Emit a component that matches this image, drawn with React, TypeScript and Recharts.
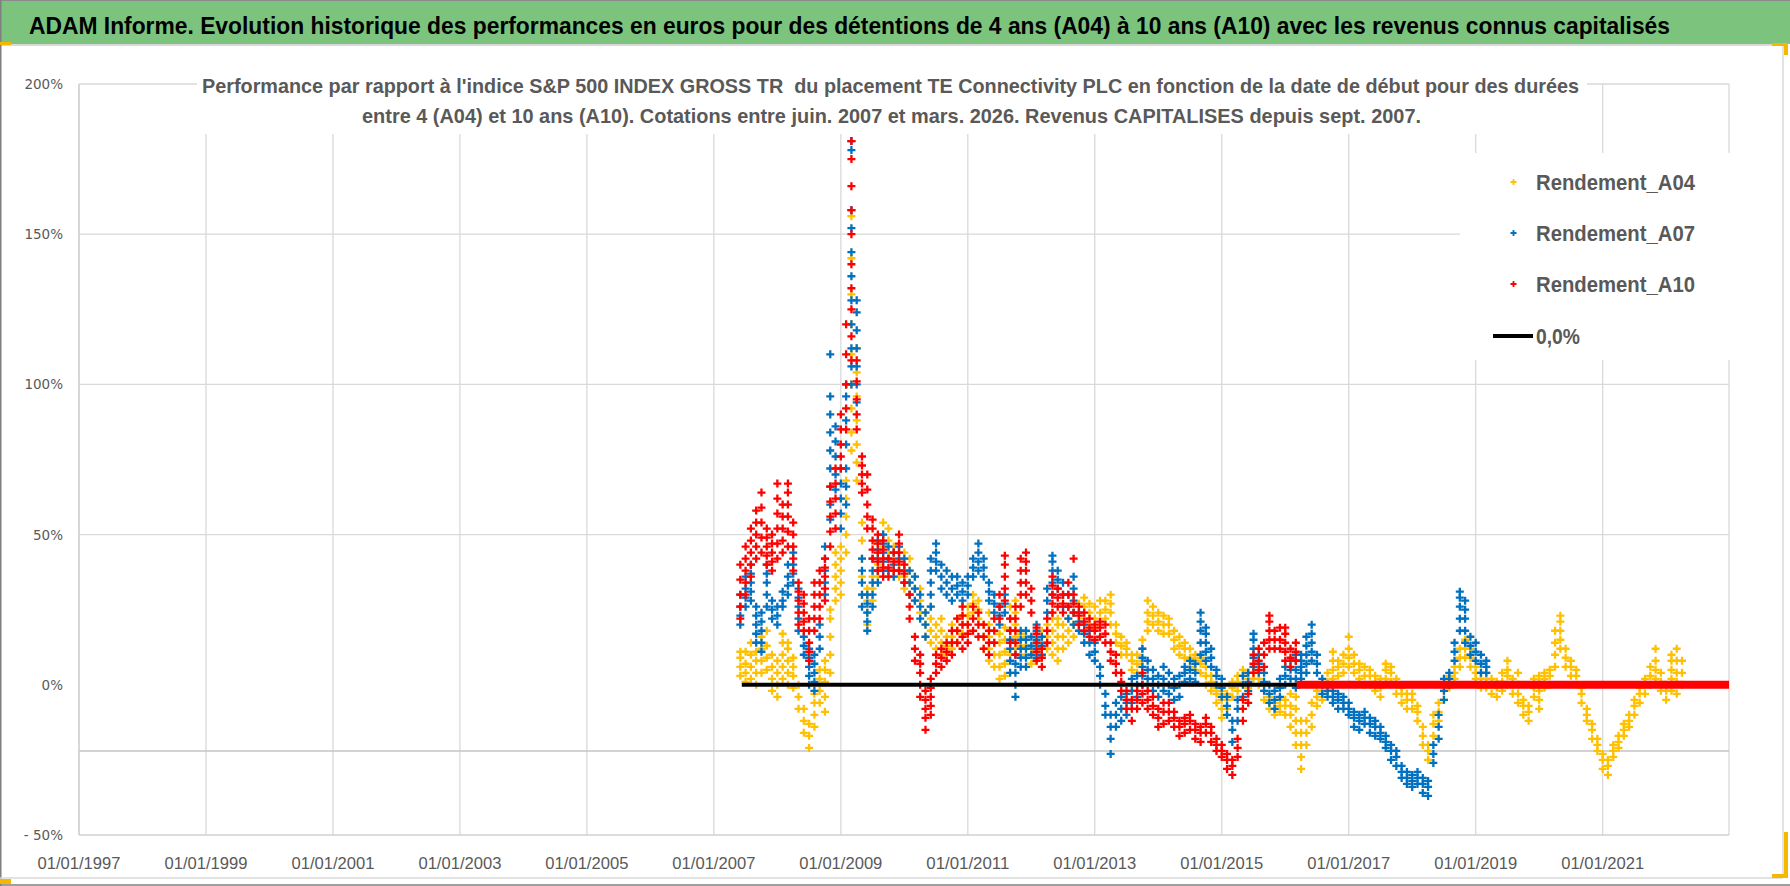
import { ScatterChart, Scatter, XAxis, YAxis, CartesianGrid, ReferenceLine } from 'recharts'

// Values, first column = June 2007.
// Each inner list = the points seen in the cloud for that month (in %).
const FIRST_MONTH = 2007 + 5 / 12

const a04: number[][] = [
    [3, 6, 9, 11], [1, 4, 7, 11], [2, 6, 10, 14], [0, 4, 8, 11], [4, 8, 12, 16], [5, 9, 13, 18], [-2, 2, 6, 10],
    [-4, 0, 4, 8], [2, 6, 10, 14, 17], [0, 4, 8, 12, 14], [-1, 3, 6, 9], [-8, -4, 0], [-16, -12, -8], [-21, -17, -13],
    [-14, -10, -6, -3], [-6, -2, 2, 5], [-9, -4, 1, 5, 8], [4, 10, 16, 22, 25], [28, 32, 36, 40, 44],
    [30, 34, 38, 42, 46], [44, 50, 56, 62, 68], [78, 84, 92, 100, 110, 120, 130, 142, 156], [68, 74, 80, 88, 96, 104, 112],
    [30, 36, 42, 48, 54], [20, 24, 28, 32], [28, 32, 36], [36, 40, 44, 47], [46, 50, 54], [44, 48, 52], [38, 42, 46],
    [36, 40, 44], [32, 36, 40, 44], [30, 34, 38, 42], [28, 32, 36], [24, 28, 32], [16, 20, 24], [14, 18, 22, 26],
    [12, 16, 20], [10, 14, 18, 22], [10, 13, 16], [12, 16, 20], [14, 18, 22], [17, 20, 23], [20, 23, 26], [24, 27, 30],
    [22, 25, 28], [12, 16, 20], [8, 12, 16, 20, 24], [6, 10, 14], [2, 6, 10, 14, 17], [3, 7, 11, 15, 19],
    [10, 14, 18, 22, 26], [12, 16, 20, 24, 28], [10, 13, 17], [10, 13, 16], [7, 10, 12], [8, 11, 14], [10, 14, 18],
    [12, 16, 20], [10, 14, 18, 22, 24], [8, 12, 16, 20, 22], [12, 16, 20], [14, 18, 22], [16, 20, 24], [20, 24, 27],
    [22, 26, 29], [20, 24, 27], [19, 22, 26], [20, 24, 28], [22, 25, 28], [20, 24, 27, 30], [14, 17, 20], [10, 13, 16],
    [10, 12, 14], [5, 8, 10], [4, 7, 10], [8, 12, 15], [18, 21, 24, 28], [20, 23, 26], [18, 21, 24], [17, 20, 23],
    [17, 20, 22], [12, 15, 18], [10, 13, 16], [9, 12, 14], [6, 9, 12], [5, 8, 10], [4, 7, 9], [0, 3, 6], [-2, 1, 3],
    [-6, -3, -1], [-11, -8, -5, -2], [-8, -5, -3], [-4, -1, 1], [-2, 1, 3], [0, 3, 5], [-1, 2, 4], [2, 4, 6], [0, 2, 4],
    [-5, -2, 0], [-8, -6, -4], [-10, -8, -6], [-9, -7, -5], [-10, -7, -5], [-14, -10, -7, -3], [-20, -16, -12, -8, -4],
    [-28, -24, -20, -16, -12], [-20, -16, -12], [-14, -10, -6], [-7, -4, -2], [-5, -2, 0], [-2, 1, 4], [2, 5, 8, 11],
    [3, 6, 8], [4, 7, 10], [6, 9, 12, 16], [4, 7, 10], [2, 5, 7], [0, 3, 6], [0, 3, 5], [-2, 1, 3], [-4, -1, 2],
    [2, 5, 7], [1, 4, 6], [-3, 0, 2], [-6, -3, -1], [-8, -5, -3], [-8, -5, -3], [-12, -9, -7], [-20, -17, -14],
    [-25, -22, -20], [-17, -13, -10], [-12, -9, -6], [-5, -2, 0], [-1, 1, 3], [2, 4, 6], [6, 9, 12], [9, 12, 15],
    [6, 9, 12], [2, 4, 6], [-1, 2, 4], [-1, 2, 4], [-3, 0, 2], [-4, -1, 1], [-2, 1, 4], [0, 3, 5, 8], [-3, 0, 2],
    [-6, -3, 0, 4], [-10, -7, -5], [-12, -9, -7], [-4, -1, 2], [-8, -5, -2, 1, 3], [-1, 2, 4], [0, 3, 5], [6, 10, 14, 18],
    [12, 15, 18, 21, 23], [6, 9, 12], [3, 6, 8], [0, 3, 5], [-6, -3, -1], [-12, -10, -8], [-18, -15, -13], [-22, -20, -18],
    [-28, -25, -23], [-30, -27, -25], [-24, -22, -20], [-21, -19, -17], [-17, -15, -13], [-14, -12, -10], [-10, -7, -5],
    [-6, -3, -1], [-3, 0, 2], [0, 3, 6], [2, 5, 8, 12], [-2, 1, 4], [-5, -2, 0], [-2, 2, 5, 8, 10], [-3, 1, 4, 8, 12],
    [0, 4, 8],
]

const a07: number[][] = [
    [20, 23, 26, 30], [26, 29, 32, 36], [28, 31, 34, 37, 40], [14, 17, 20, 23, 26], [11, 14, 18, 21, 24],
    [26, 30, 34, 37, 40], [22, 25, 28], [20, 23, 26], [26, 28, 31], [30, 33, 36, 40], [34, 37, 40, 44],
    [18, 22, 26, 29, 32], [10, 13, 16], [0, 3, 6, 9, 12], [-2, 1, 4, 7, 10], [12, 16, 20], [30, 34, 38, 42, 46],
    [55, 60, 66, 72, 78, 84, 90, 96, 110], [65, 70, 76, 81, 86], [52, 57, 62, 67, 72], [60, 66, 72, 80, 88, 96, 100],
    [100, 106, 112, 120, 128, 136, 144, 152, 158, 178, 181], [94, 100, 106, 112, 118, 124, 128], [26, 30, 34, 38, 42],
    [18, 21, 24, 27, 30], [26, 30, 34, 38, 42], [34, 38, 42, 45, 48], [38, 41, 44, 47, 50], [38, 42, 46], [36, 40, 44],
    [38, 42, 46], [34, 38, 42], [30, 34, 38], [28, 32, 36], [22, 26, 30], [16, 20, 24], [26, 30, 34, 38, 42],
    [38, 41, 44, 47], [32, 36, 40], [30, 34, 38], [28, 32, 36], [30, 33, 36], [28, 31, 34], [30, 33, 36], [36, 39, 42],
    [38, 41, 44, 47], [36, 39, 42], [28, 31, 34], [24, 27, 30], [20, 23, 26], [24, 27, 30], [4, 8, 12, 15, 18],
    [-4, 0, 4, 7, 10], [6, 9, 12, 15, 18], [6, 9, 12, 15, 18], [10, 13, 16], [9, 12, 15, 18, 20], [10, 13, 16],
    [24, 28, 32], [30, 34, 38, 41, 43], [32, 35, 38], [26, 30, 34], [22, 26, 30], [20, 24, 28, 32, 36], [18, 21, 24],
    [14, 17, 20], [10, 14, 18], [8, 11, 14], [0, 3, 6], [-10, -7, -3], [-23, -18, -14, -10], [-14, -10, -6],
    [-12, -8, -4], [-10, -6, -3], [-6, -2, 2], [-4, 0, 3], [0, 3, 6, 9, 12], [2, 5, 8], [-2, 2, 5], [-4, 0, 3],
    [-2, 2, 6], [-3, 0, 4], [-5, -1, 2], [-4, 0, 3], [1, 4, 6], [2, 5, 8], [1, 4, 7], [10, 14, 18, 21, 24],
    [8, 11, 14, 17, 19], [6, 9, 12], [0, 3, 5], [-4, -1, 2], [-10, -7, -4], [-19, -15, -12], [-12, -8, -5], [-4, 0, 3],
    [-2, 1, 4], [6, 9, 12, 15, 17], [4, 7, 10], [-2, 1, 4], [-6, -3, 0], [-8, -5, -2], [-4, -1, 2], [0, 3, 6],
    [2, 5, 8], [-1, 2, 5, 8, 10], [2, 4, 6, 8, 10], [4, 7, 10, 13, 16], [8, 11, 14, 17, 20], [4, 7, 10], [-3, 0, 2],
    [-4, -2, 0], [-6, -4, -2], [-8, -5, -3], [-8, -6, -4], [-10, -8, -6], [-14, -11, -9], [-15, -12, -10],
    [-13, -11, -9], [-16, -13, -11], [-17, -14, -12], [-18, -16, -14], [-21, -19, -17], [-25, -22, -20],
    [-27, -24, -22], [-31, -29, -27], [-33, -31, -29], [-34, -32, -30], [-33, -31, -29], [-36, -33, -31],
    [-37, -34, -32], [-26, -23, -20], [-18, -14, -10], [-5, -2, 2], [0, 2, 4], [8, 11, 14], [18, 22, 26, 29, 31],
    [14, 18, 22, 25, 28], [10, 13, 16], [8, 11, 14], [4, 7, 10], [4, 6, 8],
]

const a10: number[][] = [
    [22, 26, 30, 35, 40], [30, 34, 38, 42, 46], [36, 40, 44, 48, 52], [42, 46, 50, 54, 58], [44, 49, 54, 59, 64],
    [40, 43, 46, 49, 52], [38, 41, 44, 47, 50], [42, 47, 52, 57, 62, 67], [44, 48, 52, 56, 60], [46, 51, 56, 60, 64, 67],
    [38, 42, 46, 50, 54], [20, 24, 28, 31, 34], [18, 21, 24, 27, 30], [8, 11, 14, 18, 22], [18, 22, 26, 30, 34],
    [22, 26, 30, 34, 38], [28, 32, 36, 39, 42], [46, 51, 56, 61, 66], [52, 57, 62, 67, 72], [72, 76, 80, 85, 90],
    [85, 92, 100, 110, 120], [108, 116, 125, 132, 140, 150, 158, 166, 175, 181], [85, 90, 95, 101, 108],
    [64, 67, 70, 73, 76], [52, 56, 60, 65, 70], [42, 45, 48, 52, 55], [38, 41, 44, 47, 50], [36, 39, 42, 45, 48],
    [36, 39, 42], [38, 41, 44], [38, 41, 44, 47, 50], [34, 37, 40], [22, 26, 30], [8, 12, 16], [-4, 0, 4, 7, 10],
    [-15, -11, -8, -5, -2], [-10, -7, -4, -1, 2], [4, 7, 10], [6, 9, 12], [8, 11, 14], [10, 14, 18], [14, 18, 22],
    [12, 16, 20, 23, 26], [14, 17, 20], [18, 22, 26], [16, 20, 24], [12, 16, 20], [10, 14, 18], [14, 18, 22],
    [22, 26, 30], [28, 32, 36, 40, 43], [14, 18, 22], [10, 14, 18, 22, 26], [26, 30, 34, 38, 42], [30, 34, 38, 41, 44],
    [24, 28, 32], [8, 11, 14, 17, 19], [6, 9, 12], [14, 18, 22], [24, 27, 30, 33, 36], [26, 29, 32], [24, 27, 30],
    [26, 30, 34], [24, 27, 30, 42], [20, 23, 26], [18, 21, 24], [16, 19, 22], [15, 18, 20], [16, 19, 21], [14, 17, 20],
    [8, 11, 14], [4, 7, 10], [-2, 1, 4], [-8, -5, -2], [-12, -8, -5], [-8, -5, -2], [-6, -3, 0, 4], [-8, -5, -2],
    [-10, -7, -4], [-14, -11, -8], [-13, -9, -6], [-12, -9, -6], [-14, -11, -9], [-17, -14, -12], [-16, -13, -11],
    [-15, -12, -10], [-18, -15, -13], [-19, -16, -14], [-16, -13, -11], [-19, -16, -14], [-22, -20, -18],
    [-24, -22, -20], [-28, -25, -23], [-30, -27, -25], [-24, -21, -18], [-12, -8, -5], [-6, -3, 0], [4, 7, 10],
    [5, 8, 12], [6, 10, 14], [12, 15, 18, 21, 23], [12, 15, 18], [12, 15, 19], [8, 11, 14, 17, 19], [6, 9, 12],
    [8, 11, 14],
]

// 0,0% reference line, and A10 values at 0 once no 10-year window is complete
const zeroLine = [{ x: 2007.44, y: 0 }, { x: 2022.99, y: 0 }]
const a10Zero = [{ x: 2016.18, y: 0 }, { x: 2022.99, y: 0 }]

const X_TICKS = [1997, 1999, 2001, 2003, 2005, 2007, 2009, 2011, 2013, 2015, 2017, 2019, 2021]
const Y_TICKS = [-50, 0, 50, 100, 150, 200]
const Y_GRID = [200, 150, 100, 50]

const SERIES = [
    { name: 'Rendement_A04', color: '#FFC000', rows: a04 },
    { name: 'Rendement_A07', color: '#0070C0', rows: a07 },
    { name: 'Rendement_A10', color: '#FF0000', rows: a10 },
]

const TITLE = 'ADAM Informe. Evolution historique des performances en euros pour des détentions de 4 ans (A04) à 10 ans (A10) avec les revenus connus capitalisés'
const SUB1 = "Performance par rapport à l'indice S&P 500 INDEX GROSS TR  du placement TE Connectivity PLC en fonction de la date de début pour des durées"
const SUB2 = 'entre 4 (A04) et 10 ans (A10). Cotations entre juin. 2007 et mars. 2026. Revenus CAPITALISES depuis sept. 2007.'

const toPoints = (rows: number[][]) =>
    rows.flatMap((vals, i) => vals.map(v => ({ x: FIRST_MONTH + i / 12, y: v })))

const Plus = (props: any) => {
    const { cx, cy, fill } = props
    if (cx == null || cy == null) return <g />
    return <path d={`M${cx - 4},${cy}h8M${cx},${cy - 4}v8`} stroke={fill} strokeWidth={2.3} fill="none" />
}

const NoDot = () => <g />

const XTick = (props: any) => {
    const { x, payload } = props
    return (
        <text x={x} y={869} textAnchor="middle" fontSize={16} fill="#595959"
            fontFamily="'Liberation Sans', Arial, sans-serif" textLength={83} lengthAdjust="spacingAndGlyphs">
            {`01/01/${payload.value}`}
        </text>
    )
}

const YTick = (props: any) => {
    const { y, payload } = props
    const v = payload.value as number
    const label = v < 0 ? `- ${Math.abs(v)}%` : `${v}%`
    return (
        <text x={63} y={y + 5} textAnchor="end" fontSize={13.5} fill="#595959" fontFamily="'DejaVu Sans', Verdana, sans-serif">
            {label}
        </text>
    )
}

const narrow = "'Liberation Sans', Arial, sans-serif"

export default function App() {
    return (
        <div style={{ position: 'relative', width: 1790, height: 886, background: '#fff', overflow: 'hidden' }}>
            <style>{'body{margin:0}'}</style>
            <ScatterChart width={1790} height={886} margin={{ top: 84, right: 61, bottom: 11, left: 9 }}>
                <CartesianGrid vertical horizontal={false} stroke="#D9D9D9" strokeWidth={1.3} />
                {Y_GRID.map(v => (
                    <ReferenceLine key={v} y={v} stroke="#D9D9D9" strokeWidth={1.3} />
                ))}
                <ReferenceLine y={-22} stroke="#C4C4C4" strokeWidth={1.5} />
                <XAxis type="number" dataKey="x" domain={[1997, 2022.99]} ticks={X_TICKS} interval={0}
                    allowDataOverflow height={40} tickLine={false} axisLine={{ stroke: '#D0D0D0', strokeWidth: 1.5 }}
                    tick={<XTick />} />
                <YAxis type="number" dataKey="y" domain={[-50, 200]} ticks={Y_TICKS} interval={0}
                    allowDataOverflow width={70} tickLine={false} axisLine={{ stroke: '#D0D0D0', strokeWidth: 1.3 }}
                    tick={<YTick />} />
                {SERIES.map(s => (
                    <Scatter key={s.name} name={s.name} data={toPoints(s.rows)} fill={s.color}
                        shape={Plus} isAnimationActive={false} />
                ))}
                <Scatter name="0,0%" data={zeroLine} fill="#000" shape={NoDot}
                    line={{ stroke: '#000', strokeWidth: 4 }} isAnimationActive={false} />
                <Scatter name="Rendement_A10_zero" data={a10Zero} fill="#FF0000" shape={NoDot}
                    line={{ stroke: '#FF0000', strokeWidth: 8 }} isAnimationActive={false} legendType="none" />
            </ScatterChart>

            <svg width={1790} height={886} style={{ position: 'absolute', left: 0, top: 0, pointerEvents: 'none' }}>
                {/* header band */}
                <rect x={0} y={0} width={1790} height={44} fill="#7CC47E" />
                <line x1={0} y1={0.5} x2={1790} y2={0.5} stroke="#8A8A8A" />
                <text x={29} y={34} fontSize={24} fontWeight="bold" fill="#000" fontFamily={narrow}
                    textLength={1641} lengthAdjust="spacingAndGlyphs">{TITLE}</text>
                <line x1={0} y1={45} x2={1783} y2={45} stroke="#D9D9D9" strokeWidth={2} />

                {/* frame */}
                <line x1={0.75} y1={0} x2={0.75} y2={886} stroke="#7F7F7F" strokeWidth={1.5} />
                <line x1={0} y1={885} x2={1790} y2={885} stroke="#7F7F7F" strokeWidth={1.5} />
                <line x1={0} y1={878} x2={1783} y2={878} stroke="#D9D9D9" strokeWidth={1.5} />
                <line x1={1783} y1={45} x2={1783} y2={878} stroke="#D9D9D9" strokeWidth={1.5} />
                <rect x={0} y={42} width={11} height={3} fill="#F5B800" />
                <rect x={0} y={879} width={11} height={5} fill="#F5B800" />
                <rect x={1772} y={43} width={16} height={3} fill="#F5B800" />
                <rect x={1784} y={43} width={4} height={12} fill="#F5B800" />
                <rect x={1784} y={832} width={4} height={46} fill="#F5B800" />
                <rect x={1772} y={874} width={16} height={4} fill="#F5B800" />

                {/* chart title */}
                <rect x={197} y={66} width={1390} height={68} fill="#fff" />
                <text x={890.5} y={93} textAnchor="middle" fontSize={21} fontWeight="bold" fill="#595959"
                    fontFamily={narrow} textLength={1377} lengthAdjust="spacingAndGlyphs"
                    style={{ whiteSpace: 'pre' }}>{SUB1}</text>
                <text x={891.5} y={123} textAnchor="middle" fontSize={21} fontWeight="bold" fill="#595959"
                    fontFamily={narrow} textLength={1059} lengthAdjust="spacingAndGlyphs">{SUB2}</text>

                {/* legend */}
                <rect x={1460} y={153} width={270} height={207} fill="#fff" />
                {SERIES.map((s, i) => {
                    const cy = 182 + i * 51
                    return (
                        <g key={s.name}>
                            <path d={`M${1510.5},${cy}h6M${1513.5},${cy - 3}v6`} stroke={s.color} strokeWidth={1.8} />
                            <text x={1536} y={cy + 8} fontSize={22} fontWeight="bold" fill="#595959"
                                fontFamily={narrow} textLength={159} lengthAdjust="spacingAndGlyphs">{s.name}</text>
                        </g>
                    )
                })}
                <line x1={1493} y1={336} x2={1533} y2={336} stroke="#000" strokeWidth={4} />
                <text x={1536} y={344} fontSize={22} fontWeight="bold" fill="#595959"
                    fontFamily={narrow} textLength={44} lengthAdjust="spacingAndGlyphs">0,0%</text>
            </svg>
        </div>
    )
}
